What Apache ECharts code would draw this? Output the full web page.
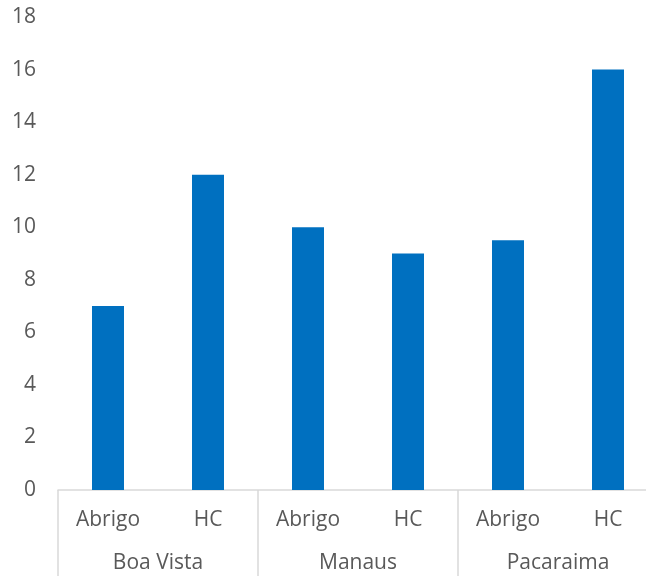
<!DOCTYPE html>
<html><head><meta charset="utf-8">
<script src="https://cdn.jsdelivr.net/npm/echarts@6/dist/echarts.min.js"></script>
<style>html,body{margin:0;padding:0;background:#fff}#c{width:646px;height:576px}</style>
</head><body><div id="c"></div>
<script>
const subCategories = ["Abrigo", "HC", "Abrigo", "HC", "Abrigo", "HC"];
const groups = ["Boa Vista", "Manaus", "Pacaraima"];
const values = [7, 12, 10, 9, 9.5, 16];
const yMin = 0, yMax = 18, yInterval = 2;

const font = "'Open Sans', Lato, sans-serif";
const chart = echarts.init(document.getElementById('c'));
chart.setOption({
  animation: false,
  grid: { left: 58, width: 600, top: 17, bottom: 86, containLabel: false, outerBoundsMode: 'none' },
  xAxis: [
    {
      type: 'category', data: subCategories, position: 'bottom',
      axisLine: { show: true, lineStyle: { color: '#d9d9d9', width: 1.5 } },
      axisTick: { show: false },
      axisLabel: { color: '#595959', fontSize: 21, fontFamily: font, margin: 20, interval: 0 }
    },
    {
      type: 'category', data: groups, position: 'bottom',
      axisLine: { show: false },
      axisTick: { show: true, length: 90, lineStyle: { color: '#d9d9d9', width: 1.5 } },
      axisLabel: { color: '#595959', fontSize: 21, fontFamily: font, margin: 63, interval: 0 }
    }
  ],
  yAxis: {
    type: 'value', min: yMin, max: yMax, interval: yInterval,
    axisLine: { show: false }, axisTick: { show: false }, splitLine: { show: false },
    axisLabel: { color: '#595959', fontSize: 21, fontFamily: font, margin: 22 }
  },
  series: [{
    type: 'bar', xAxisIndex: 0, data: values, barWidth: 32,
    itemStyle: { color: '#0070C0' }
  }]
});
</script></body></html>
